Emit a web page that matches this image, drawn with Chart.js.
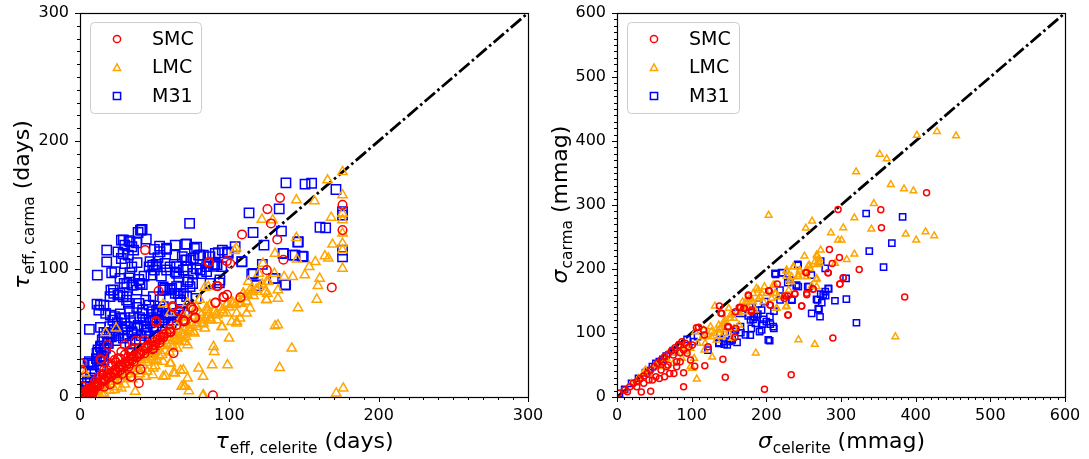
<!DOCTYPE html>
<html>
<head>
<meta charset="utf-8">
<title>carma vs celerite</title>
<script src="https://cdn.jsdelivr.net/npm/chart.js@4.4.0/dist/chart.umd.min.js"></script>
<style>
  body { margin: 0; background: #fff; overflow: hidden; }
  #wrap { position: relative; width: 1089px; height: 459px; }
  .panel { position: absolute; top: 0; height: 459px; }
</style>
</head>
<body>
<div id="wrap">
  <div class="panel" style="left:0;width:545px"><canvas id="tauChart" width="545" height="459"></canvas></div>
  <div class="panel" style="left:545px;width:544px"><canvas id="sigmaChart" width="544" height="459"></canvas></div>
</div>
<script>
// ---- data: [celerite, carma] pairs ----
const smcTau = [
  [0,71.3],[43.6,114.8],[125.5,146.8],[133.9,155.6],[127.9,135.6],[108.5,127],[132.1,123.1],[175.8,150.1],[175.8,130.4],
  [136.2,107.2],[125.1,99.1],[168.6,85.6],[85.9,105.1],[98.3,106.2],[100.6,104.3],[92.2,86.6],[98.5,79.9],[96,78.3],
  [107.4,77.8],[90.6,73.6],[52.6,82.7],[62,71],[66.1,67.4],[74.3,70],[75.9,68.4],[77.1,61.7],[69.4,59.1],[64.5,56.2],
  [60.3,50.5],[55.7,46.6],[53.3,42.4],[51,58.3],[62.6,34.3],[48.7,37.2],[42.9,44.5],[44,39.3],[40.5,34.1],[37.3,44],
  [34.7,37.2],[32.4,31.5],[30,40.6],[27.7,35.4],[25.4,30.2],[23.1,28.9],[20.7,25],[18.4,40.6],[13.7,29.4],[16.1,21.1],
  [18.4,18.5],[20.7,32.8],[40.5,21.6],[33.8,15.9],[39.4,10.7],[89,1.3],[0.9,26.3],[0.9,21.1],[2.1,8.1],[4.4,4.2],
  [6.8,2.9],[9.1,5.5],[11.4,8.1],[3.3,1.6],[7.9,0.8],[5.6,6.8],[16.1,13.3],[23.1,21.1],[26.6,25],[30,26.3],[32.4,23.7],
  [35.9,27.6],[38.2,31.5],[66.5,67.4],[69.2,60.2],[70.3,59.4],[74.8,69.8],[77,62.3],[91.5,86.7],[90.8,73.7],[96.4,77.9],
  [50.9,59.4],[60.7,51],[55.8,47.1],[53.6,44.5],[50.2,40.6],[49.1,38],[86.6,105.7],[62.3,70.1],[51.1,58.8],[60,51],
  [14.3,28.9],[34.3,15.9],
  [5,5],[6,3],[7,7],[8,5],[9,9],[10,8],[11,10],[12,11],[13,9],[14,13],[15,12],[16,14],[17,13],[18,16],[19,15],[20,18],
  [21,16],[22,19],[23,18],[24,21],[25,19],[26,23],[27,21],[28,25],[29,23],[30,27],[31,25],[32,28],[33,26],[34,30],
  [35,29],[36,32],[38,31],[39,34],[40,33],[42,36],[43,34],[45,38],[46,41],[48,40],[50,43],[52,45],[54,47],[56,49],
  [58,50],[60,53],[15,18],[18,21],[21,24],[24,27],[27,30],[30,33],[33,36],[12,15],[10,12],[25,14],[28,18],[20,10],
  [16,8],[8,2],[3,3],[4,1],[2,4],[1,2],[6,6],[9,4]
];
const lmcTau = [
  [175.8,175.9],[165.8,169.4],[175.8,157.7],[144.9,153.8],[157,153],[121.8,138.7],[129,138.2],[168.2,140.2],[175.8,143.4],
  [175.8,138.2],[175.8,127.8],[144.9,124.4],[169.1,119.2],[175.8,120],[175.8,114.8],[175.8,100.4],[103.4,114.2],
  [130.6,112.1],[145.3,107.5],[157.6,105.6],[164,110.1],[166.3,108.3],[153.5,101.7],[122.5,104.3],[119.7,96.5],
  [130.2,96.5],[136.7,93.9],[142.5,93.9],[150.5,95.2],[160.5,92.6],[159.3,86.9],[158.6,76.2],[146,69.5],[132.5,83.5],
  [132.5,77],[125.5,80.9],[124.8,76.2],[116.2,79.1],[111.6,74.4],[113.9,83.5],[109.2,80.9],[106.9,73.6],[111.6,65.3],
  [105,58.8],[95.3,54.9],[91.8,60.1],[87.1,60.1],[83.6,53.6],[76.6,49.7],[72,40.6],[67.3,45.8],[95.3,67.9],[98.8,73.1],
  [85.4,67.9],[81.3,64],[99.8,45.8],[89.4,39.3],[89.9,35.4],[98.8,25],[88.5,25],[79.4,22.4],[82.4,15.9],[72,14.6],
  [69.6,8.1],[72.9,4.7],[82.2,0.8],[67.3,20.6],[60.8,26.3],[55.7,27.6],[55.7,15.9],[57.3,16.4],[50.3,24.2],[62.6,19],
  [48.7,31.5],[48.7,17.2],[44,15.9],[37,4.2],[27.7,6.8],[23.1,5.5],[16.1,2.9],[11.4,5.5],[133.7,22.9],[141.8,38],
  [130.6,55.4],[132.5,56.2],[171.6,2.9],[176.3,6.8],[17.2,50.2],[24.2,53.6],[55.7,72.6],[60.3,65.8],[72,73.6],[80.1,76.2],
  [83.6,85.6],[85.9,86.1],[104.6,116.1],[2.1,21.1],[3.3,18.5],
  [112.7,90.1],[116,82.3],[109.4,81],[111.6,74.5],[107.1,73.2],[102.7,73.2],[113.8,69.3],[104.9,65.4],[98.2,65.4],
  [107.1,61.5],[101.6,58.8],[94.9,54.9],[104.9,57.6],[126.1,90.1],[123.9,82.3],[125,75.8],[82.6,57.6],[87,61.5],
  [91.5,65.4],[78.1,54.9],[73.7,51],[69.2,48.4],[64.7,44.5],[60.3,40.6],[87,71.9],[69.2,21.1],[63.6,18.5],[49.1,22.4],
  [51.3,28.9],[60.3,26.3],[70.3,8.1],[68.1,8.1],[82.6,1.6],
  [8,3],[10,6],[12,4],[14,9],[15,6],[17,11],[18,8],[20,14],[21,10],[23,16],[24,12],[26,18],[27,14],[29,20],[30,16],
  [32,22],[33,18],[35,24],[36,20],[38,27],[39,22],[41,29],[42,25],[44,31],[45,27],[47,33],[48,29],[50,35],[52,38],
  [53,32],[55,40],[57,36],[58,42],[60,44],[62,40],[63,46],[65,48],[66,44],[68,50],[70,52],[71,47],[73,54],[75,56],
  [76,51],[78,58],[80,60],[82,57],[84,62],[86,64],[88,60],[90,67],[92,64],[94,70],[96,66],[98,72],[100,70],[102,74],
  [104,72],[106,76],[108,73],[110,78],[112,80],[115,82],[118,84],[120,86],[122,88],[125,90],[60,50],[65,55],[70,58],
  [75,63],[80,66],[85,70],[45,38],[50,42],[55,46],[40,34],[35,30],[28,25],[22,20],[18,16],[62,52],[68,62],[72,66],
  [78,70],[30,10],[35,14],[40,18],[45,20],[25,8],[20,5],[15,2],[50,28],[55,33],[60,35],[65,38],[70,43]
];
const m31Tau = [
  [137.9,167.3],[150.7,166.3],[155.1,167],[171.4,162.1],[175.8,144.7],[175.8,142.1],[175.8,114.8],[175.8,109.6],
  [113.2,143.9],[133.4,147],[73.4,135.6],[164.5,132.1],[134.9,129.6],[115.9,128.5],[145.8,121],[123.2,118.7],
  [103.9,117.4],[136,112.1],[142.5,110.8],[148.8,110.1],[108.5,105.6],[122.1,103.6],[115,96],[118.1,86.9],[137.7,87.9],
  [129.5,92.6],[95.3,114.8],[98.8,113.4],[90.6,112.1],[85.9,104.6],[89.4,102],[91.8,103.3],[87.1,88.7],[93.3,89.2],
  [77.8,77],[11.6,95.2],[6.3,52.8],[6.3,27.6],[17.9,114.8],[17.9,105.6],[21.2,97.1],[27.7,122.6],[30,118.7],
  [32.8,122.1],[34.7,117.4],[40.5,130.4],[41.6,130.9],[38.9,128.5],[44.4,123.3],[25.4,113.4],[28.9,112.1],[32.4,110.8],
  [35.9,114.8],[53.3,117.9],[57.9,115.3],[63.8,118.7],[70.7,119.2],[76.6,116.1],[79.4,110.8],[49.8,115.3],[52.2,108.8],
  [51,103.6],[46.3,101.7],[48.7,103],[56.9,104.3],[60.3,101.7],[63.8,97.8],[66.1,93.9],[70.7,106.9],[74.2,106.9],
  [72,101.7],[77.8,100.4],[68.5,109.6],[81.3,96.5],[72,90],[75.4,88.7],[27.7,108.2],[30.1,104.3],[34.7,101.7],
  [38.2,105],[33.5,97.1],[32.8,93.1],[39.4,91.8],[42.9,94.4],[29.6,88.7],[34.7,87.4],[38.2,83.5],[41.7,87.9],
  [47.5,95.2],[49.8,99.1],[54.5,94.4],[55.7,86.1],[60.3,84.8],[63.8,80.9],[67.3,80.9],[20.7,83.5],[22.6,80.9],
  [25.4,79.6],[28.9,78.3],[31.2,75.7],[32.4,73.1],[11.4,72.6],[13.7,71.8],[16,71.8],[12.6,67.9],[17.2,65.3],[20.3,64],
  [23.1,62.7],[27.7,61.4],[30,57.5],[39.4,73.1],[44,75.7],[46.3,71.8],[41.6,65.3],[48.7,66.6],[52.2,65.3],[53.3,66.6],
  [56.8,64],[62.6,60.1],[67.3,73.6],[13.7,54.4],[16,50.5],[19.6,49.7],[25.4,49.7],[30,52.3],[34.7,51],[38.2,53.6],
  [7.9,26.3],[11.4,34.1],[13.7,39.3],[16,36.7],[14.9,44.5],[18.4,41.9],[3.3,10.7],[4.4,8.1],[6.8,13.3],[13.7,23.7],
  [16,28.9],[44,49.7],[46.3,47.1],[49.8,39.3],[37,44.5],[33.5,41.9],[34.7,34.1],[48.7,35.4],
  [99.3,112.2],[92.6,112.7],[136.2,112.2],[144,110.9],[149.5,109.6],[108.3,105.7],[82.6,110.9],[87,109.6],[90.4,103.6],
  [94.9,101.8],[84.8,97.9],[116,96.6],[118.3,87.5],[130.6,92.7],[137.3,87.5],[93.7,91.4],[160.7,132.6],[146.2,121.3],
  [41,130.5],[37.9,120.5],[29,122.7],[33.5,121.3],[71.4,119.5],[78.1,117],[80.4,110.9],[75.9,108.3],[71.4,107],
  [58,116.2],[63.6,110.9],[53.6,113.5],[46.9,105.7],[51.4,101.8],[58,99.2],[64.7,96.6],[72.5,91.4],[23.4,97.9],
  [26.8,92.7],[31.3,88.8],[35.7,87.5],[40.2,88.8],[22.3,83.6],[26.8,81],[31.3,78.4],[20.1,78.4],[56.9,84.9],[61.4,84.9],
  [65.8,81],[12.1,36.7],[14.3,31.5],[5.4,26.3],[49.1,78.4],[53.6,75.8],[51.3,68],[48,60.2],[49.1,54.9],[50.2,47.1],
  [49.1,36.7],[55.8,83.6],[60.3,83.6],[64.7,86.2],[69.2,81],[73.7,86.2],[75.9,96.6],[80.4,99.2],[84.8,101.8],
  [69.2,99.2],[64.7,101.8],[67,75.8],[71.4,78.4],[55.8,70.5],[60.3,65.3],
  [2,5],[4,8],[5,12],[7,15],[8,20],[9,25],[10,18],[11,30],[12,35],[13,28],[14,40],[15,32],[16,45],[17,38],[18,50],
  [19,42],[20,55],[21,47],[22,60],[23,52],[24,44],[25,58],[26,48],[27,65],[28,53],[29,46],[30,62],[31,55],[32,48],
  [33,67],[34,58],[35,50],[36,62],[37,45],[38,70],[39,56],[40,62],[41,48],[42,68],[43,55],[44,60],[45,52],[47,58],
  [49,62],[51,55],[53,60],[55,58],[57,62],[59,60],[61,58],[63,64],[65,62],[67,66],[70,64]
];

const smcSigma = [
  [414.6,319],[385.3,156.1],[353.3,292.5],[354.2,264.4],[296.1,293],[324.4,199.3],[284.5,230.5],[297.9,218],[288.2,208.7],
  [282.6,194.1],[298.4,176.4],[303,186.3],[262.6,168.6],[254.2,159.8],[252.9,194.6],[247.3,142.1],[238,160.8],[228.7,128],
  [224,154],[228.7,157.7],[214.7,176.4],[203.1,166],[205.4,143.6],[179.9,133.2],[176.2,158.2],[170.6,138.4],[163.6,140],
  [137.1,142.1],[140.4,130.6],[106.4,108.2],[117.2,96.8],[121.9,78.6],[148.3,109.8],[158,93.2],[158.9,107.2],[289.1,92.1],
  [197.5,12],[233.3,34.9],[145,30.7],[141.8,58.8],[117.6,48.9],[104.1,47.9],[89.2,16.1],[89.2,38],[45.1,8.8],[32.5,7.8],
  [1.9,5.7],
  [10.2,10.9],[17.2,16.1],[21.8,21.3],[26.5,23.9],[31.1,29.1],[35.8,32.8],[40.4,36.9],[45.1,42.2],[49.7,47.4],[54.4,52.6],
  [59,57.8],[63.7,63],[68.3,67.1],[73,72.3],[77.6,77],[82.3,81.2],[86.9,86.4],[91.6,83.8],[96.2,78.6],[100.9,81.2],
  [66,47.4],[79.9,47.4],[70.6,36.9],[52.1,31.7],[42.8,26.5],[61.4,55.2],[75.3,65.6],[93.9,68.2],[98.5,57.8],[79.9,55.2],
  [84.6,69.2],[89.2,73.4],[84.6,55.2],[63.7,31.7],[59,42.2],[68.3,50],[26.5,16.1],[35.8,21.3],[47.4,26.5],[56.7,29.1],
  [76.2,36.9],[13.9,8.3],
  [149.4,109.8],[139.2,130.8],[116,104.7],[109.3,108.9],[158.7,133.3],[169.9,138.6],[165.4,140],[180.3,135.9],
  [175.8,159.4],[204.8,143.8],[203.9,165.6],[225,157.8],[229.4,128.1],[247.3,142.2],[254,162],[262.8,168.3],[254,194.2],
  [238.3,161],[298.6,176.6],[303,186.4],[282.9,194.2]
];
const lmcSigma = [
  [401.6,409],[428.5,414.8],[454.1,408],[351.9,379.4],[361.2,372.1],[320.2,351.8],[366.7,332],[384.4,325.3],[397,322.1],
  [344,302.4],[203.1,284.1],[261.2,274.8],[317.9,280],[252.9,263.8],[303,264.4],[340.7,262.3],[286.5,256.6],[386.7,254.5],
  [413.2,258.1],[400.7,245.1],[424.8,251.9],[296.1,245.1],[300.7,245.1],[272.8,229.5],[317.9,223.3],[307.7,214.9],
  [251,220.1],[268.2,220.1],[270.5,216.5],[236.8,203.5],[257.5,206.1],[268.2,207.1],[269.2,211.3],[226.7,196.7],
  [244.9,198.3],[242.7,187.9],[266.8,183.7],[233.3,180.1],[230.1,167],[211.3,174.9],[197.5,172.3],[186.8,169.7],
  [182.2,161.8],[189.2,153],[177.6,154],[168.3,148.8],[172.9,145.2],[212.4,161.8],[213.8,138.4],[226.3,141],[131.1,142.1],
  [149.7,138.4],[156.6,122.8],[145,115],[135.7,104.6],[126.4,94.2],[118.1,83.8],[103.2,60.4],[106.9,28.1],[127.4,62.4],
  [185.9,68.7],[243.1,89.5],[264.9,82.2],[372.8,94.2],[100.9,44.8],
  [98.5,76],[107.8,83.8],[114.8,94.2],[121.8,96.8],[126.4,102],[131.1,99.4],[138,107.2],[145,120.2],[152,128],[140.4,94.2],
  [133.4,89],[117.1,73.4],[91.6,70.8],[89.2,78.6],[86.9,60.4],[79.9,68.2],[75.3,52.6],[66,60.4],[61.4,47.4],[52.1,50],
  [42.8,36.9],[38.1,42.2],[28.8,29.1],[26.5,23.9],[19.5,21.3],[35.8,38],[98.5,47.4],[163.6,130.6],[170.6,133.2],
  [182.2,148.8],[191.5,156.6],[200.8,161.8],[184.5,135.8],[196.1,148.8],[163.6,112.4],[156.6,107.2],[149.7,99.4],
  [142.7,104.6],[154.3,91.6],
  [291.9,208.9],[267.4,221.9],[265.1,211.4],[271.8,208.9],[236.1,203.6],[227.2,198.4],[245,195.8],[256.2,204.7],
  [258.4,201.1],[267.4,185.5],[233.9,188],[227.2,189.1],[231.6,182.8],[260.7,173.4],[267.4,172.3],[227.2,142.2],
  [222.7,156.7],[242.8,190.6],[254,188],[209.3,175],[193.7,162],[189.2,167.2],[180.3,151.6],[172.1,148.9],[167.6,138.6],
  [160.9,133.3],[152,122.9],[143.1,117.7],[136.4,112.5],[125.3,109.8],[116,104.7],[104.8,102],[211.6,162],[216,156.7],
  [207.1,154.2],[213.8,138.6]
];
const m31Sigma = [
  [333.7,286.7],[382.5,281.5],[337.9,227.9],[368.1,240.4],[357,203],[306.8,185.3],[307.2,153],[291.9,150.4],[320.7,116],
  [272.8,212.3],[278.9,200.9],[260.3,190.5],[283.5,169.1],[278.9,164.5],[279.4,158.2],[267.2,152.5],[270.5,136.9],
  [271.9,125.4],[274.2,147.3],[272.8,160.8],[242.6,205.6],[221.7,194.1],[212.4,191.5],[228.7,178.5],[240.1,173.8],
  [255.4,172.3],[234.3,151.4],[210.2,134.3],[188.7,129.6],[196.1,121.3],[205.4,114],[210.1,107.2],[195.2,114],[191,102],
  [179.9,107.2],[178.5,96.8],[165.9,100.4],[160.8,85.3],[150.1,86.9],[143.6,82.7],[136.6,84.8],[204.5,87.9],[182.2,121.3],
  [177.6,141],[184,125.4],[168.3,130.6],[158,130.6],[145,101],[156.6,102],[138,99.4],[121.8,73.4],[103.2,86.4],
  [3.3,5.7],[10.2,12],[19.5,21.3],[28.8,29.1],[38.1,38],[47.4,47.4],[56.7,55.2],[66,64],[75.3,72.3],[84.6,81.2],
  [93.9,90],[107.8,94.2],[52.1,52.6],[42.8,41.1],[61.4,58.8],
  [218.3,151.6],[198.2,148.9],[189.2,145.3],[193.7,135.9],[187,126.6],[178.9,120.3],[175.7,126.6],[204.8,125.5],
  [209.3,109.8],[193.7,104.7],[202.6,89.1],[165.4,109.8],[158.7,104.7],[172.1,96.9],[154.2,89.1],[143.1,86.4],
  [136.4,83.8],[147.6,81.3],[185.3,115.2],[200,117.7],[211.6,193.3],[220.5,194.2],[231.6,182.8],[240.6,175],
  [233.9,152.7],[268.7,151.6],[269.6,138],[260.7,130.8],[242,207.3],[282.9,169.8],[276.2,159.4],[257.1,172.3],
  [218.3,167.2],[242.8,172.3]
];

// one-to-one reference lines
const tauDiagonal = [[0, 0], [300, 300]];
const sigmaDiagonal = [[0, 0], [600, 600]];

const tauTicks = [0, 100, 200, 300];
const sigmaTicks = [0, 100, 200, 300, 400, 500, 600];

const seriesNames = ['SMC', 'LMC', 'M31'];
const seriesColors = ['#ff0000', '#ffa500', '#0000ff'];
const seriesShapes = ['circle', 'triangle', 'rect'];

const FONT = '"DejaVu Sans", "Liberation Sans", sans-serif';

function toXY(arr) {
  return arr.map(p => ({ x: p[0], y: p[1] }));
}

function drawMarker(ctx, shape, x, y, r) {
  ctx.beginPath();
  if (shape === 'circle') {
    ctx.arc(x, y, r, 0, Math.PI * 2);
  } else if (shape === 'triangle') {
    ctx.moveTo(x, y - r);
    ctx.lineTo(x - r, y + r * 0.8);
    ctx.lineTo(x + r, y + r * 0.8);
    ctx.closePath();
  } else {
    ctx.rect(x - r, y - r, 2 * r, 2 * r);
  }
  ctx.stroke();
}

// matplotlib-ish label: italic symbol, roman subscript, then rest
function drawMathLabel(ctx, lbl, cx, cy, rotate) {
  ctx.save();
  ctx.translate(cx, cy);
  if (rotate) ctx.rotate(-Math.PI / 2);
  const big = '22px ' + FONT;
  const ital = 'italic 22px ' + FONT;
  const small = '15.4px ' + FONT;
  ctx.font = ital; const w1 = ctx.measureText(lbl.sym).width;
  ctx.font = small; const w2 = ctx.measureText(lbl.sub).width;
  ctx.font = big; const w3 = ctx.measureText(lbl.rest).width;
  let x = -(w1 + w2 + w3) / 2;
  ctx.fillStyle = '#000';
  ctx.textBaseline = 'alphabetic';
  ctx.textAlign = 'left';
  ctx.font = ital; ctx.fillText(lbl.sym, x, 0); x += w1 + 1;
  ctx.font = small; ctx.fillText(lbl.sub, x, 5); x += w2;
  ctx.font = big; ctx.fillText(lbl.rest, x, 0);
  ctx.restore();
}

const axesDecor = {
  id: 'axesDecor',
  afterDraw(chart, args, opts) {
    const { ctx, chartArea: a, scales: { x, y } } = chart;
    ctx.save();
    ctx.strokeStyle = '#000';
    ctx.lineWidth = 1;
    // minor + major ticks, outward, bottom and left only
    for (let v = x.min; v <= x.max; v += opts.minorStep) {
      const px = Math.round(x.getPixelForValue(v)) + 0.5;
      const len = v % opts.majorStep === 0 ? 5 : 3;
      ctx.beginPath(); ctx.moveTo(px, a.bottom); ctx.lineTo(px, a.bottom + len); ctx.stroke();
    }
    for (let v = y.min; v <= y.max; v += opts.minorStep) {
      const py = Math.round(y.getPixelForValue(v)) + 0.5;
      const len = v % opts.majorStep === 0 ? 5 : 3;
      ctx.beginPath(); ctx.moveTo(a.left, py); ctx.lineTo(a.left - len, py); ctx.stroke();
    }
    ctx.lineWidth = 1.2;
    ctx.strokeRect(Math.round(a.left) + 0.5, Math.round(a.top) + 0.5,
      Math.round(a.right - a.left), Math.round(a.bottom - a.top));

    // legend box
    const L = opts.legend;
    ctx.beginPath();
    ctx.roundRect(L.x + 0.5, L.y + 0.5, L.w, L.h, 4);
    ctx.fillStyle = 'rgba(255,255,255,0.8)';
    ctx.fill();
    ctx.strokeStyle = '#cccccc';
    ctx.lineWidth = 1;
    ctx.stroke();
    ctx.font = '19px ' + FONT;
    ctx.textBaseline = 'middle';
    ctx.textAlign = 'left';
    seriesNames.forEach((name, i) => {
      const cy = L.y + 17 + i * 28.5;
      ctx.strokeStyle = seriesColors[i];
      ctx.lineWidth = 1.5;
      drawMarker(ctx, seriesShapes[i], L.x + L.markerDx, cy, 3.6);
      ctx.fillStyle = '#000';
      ctx.fillText(name, L.x + L.textDx, cy + 1);
    });

    // axis titles
    drawMathLabel(ctx, opts.xTitle, (a.left + a.right) / 2, 448, false);
    drawMathLabel(ctx, opts.yTitle, opts.yTitleX, (a.top + a.bottom) / 2, true);
    ctx.restore();
  }
};

function makePanel(canvasId, cfg) {
  const datasets = [
    { label: 'SMC', data: toXY(cfg.smc), order: 1 },
    { label: 'LMC', data: toXY(cfg.lmc), order: 2 },
    { label: 'M31', data: toXY(cfg.m31), order: 3 }
  ].map((d, i) => Object.assign(d, {
    pointStyle: seriesShapes[i],
    pointRadius: cfg.radius[i],
    pointBorderColor: seriesColors[i],
    pointBackgroundColor: 'rgba(0,0,0,0)',
    pointBorderWidth: 1.5,
    showLine: false,
    clip: 0
  }));
  datasets.push({
    type: 'line',
    label: 'one-to-one',
    data: toXY(cfg.diagonal),
    borderColor: '#000',
    borderWidth: 2.8,
    borderDash: [13.5, 3.3, 2.6, 3.3],
    borderCapStyle: 'butt',
    pointRadius: 0,
    fill: false,
    order: 4,
    clip: 0
  });

  const tickFont = { family: FONT, size: 16 };
  return new Chart(document.getElementById(canvasId), {
    type: 'scatter',
    data: { datasets },
    options: {
      responsive: false,
      animation: false,
      devicePixelRatio: 1,
      events: [],
      layout: { padding: { left: 0, right: cfg.padRight, top: 13, bottom: 0 } },
      plugins: {
        legend: { display: false },
        tooltip: { enabled: false },
        axesDecor: {
          minorStep: 10,
          majorStep: 100,
          legend: cfg.legend,
          xTitle: cfg.xTitle,
          yTitle: cfg.yTitle,
          yTitleX: cfg.yTitleX
        }
      },
      scales: {
        x: {
          type: 'linear',
          min: 0, max: cfg.max,
          afterBuildTicks: s => { s.ticks = cfg.ticks.map(v => ({ value: v })); },
          afterFit: s => { s.height = 62; s.paddingLeft = 0; s.paddingRight = 0; },
          grid: { display: false, drawTicks: false },
          border: { display: false },
          ticks: { font: tickFont, color: '#000', padding: 9, maxRotation: 0, autoSkip: false }
        },
        y: {
          type: 'linear',
          min: 0, max: cfg.max,
          afterBuildTicks: s => { s.ticks = cfg.ticks.map(v => ({ value: v })); },
          afterFit: s => { s.width = cfg.yAxisWidth; s.paddingTop = 0; s.paddingBottom = 0; },
          grid: { display: false, drawTicks: false },
          border: { display: false },
          ticks: { font: tickFont, color: '#000', padding: 11, autoSkip: false }
        }
      }
    },
    plugins: [axesDecor]
  });
}

makePanel('tauChart', {
  smc: smcTau, lmc: lmcTau, m31: m31Tau, diagonal: tauDiagonal,
  max: 300, ticks: tauTicks,
  radius: [4.3, 5.4, 6.6],
  padRight: 17, yAxisWidth: 80,
  legend: { x: 90, y: 22, w: 111, h: 91, markerDx: 27, textDx: 62 },
  xTitle: { sym: 'τ', sub: 'eff, celerite', rest: ' (days)' },
  yTitle: { sym: 'τ', sub: 'eff, carma', rest: ' (days)' },
  yTitleX: 29
});

makePanel('sigmaChart', {
  smc: smcSigma, lmc: lmcSigma, m31: m31Sigma, diagonal: sigmaDiagonal,
  max: 600, ticks: sigmaTicks,
  radius: [3, 3.9, 4.4],
  padRight: 24, yAxisWidth: 72,
  legend: { x: 82, y: 22, w: 112, h: 91, markerDx: 27, textDx: 62 },
  xTitle: { sym: 'σ', sub: 'celerite', rest: ' (mmag)' },
  yTitle: { sym: 'σ', sub: 'carma', rest: ' (mmag)' },
  yTitleX: 22
});
</script>
</body>
</html>
